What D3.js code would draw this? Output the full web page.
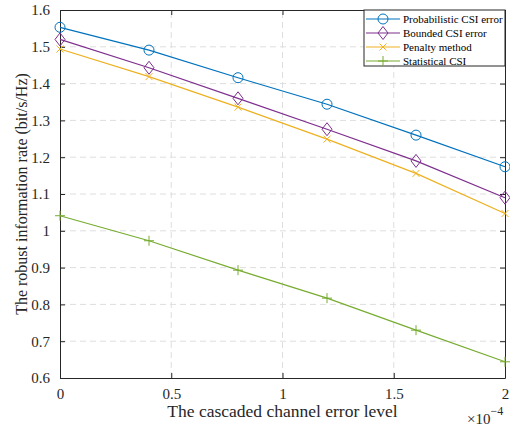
<!DOCTYPE html>
<html>
<head>
<meta charset="utf-8">
<script src="https://cdn.jsdelivr.net/npm/d3@7"></script>
<style>
  body { margin: 0; background: #fff; }
  svg { display: block; }
  svg text { font-family: "Liberation Serif", "Times New Roman", serif; }
</style>
</head>
<body>
<svg></svg>
<script>
const errorLevels = [0, 0.4, 0.8, 1.2, 1.6, 2.0];
const probabilistic = [1.553, 1.491, 1.416, 1.344, 1.260, 1.174];
const bounded = [1.520, 1.443, 1.360, 1.276, 1.190, 1.090];
const penalty = [1.494, 1.419, 1.336, 1.249, 1.156, 1.047];
const statistical = [1.041, 0.973, 0.893, 0.817, 0.730, 0.644];
const seriesNames = ["Probabilistic CSI error", "Bounded CSI error", "Penalty method", "Statistical CSI"];
const xTicks = [0, 0.5, 1, 1.5, 2];
const yTicks = [0.6, 0.7, 0.8, 0.9, 1, 1.1, 1.2, 1.3, 1.4, 1.5, 1.6];

const W = 510, H = 429;
const margin = { left: 60, right: 5, top: 10, bottom: 51 };
const svg = d3.select("svg").attr("width", W).attr("height", H);

const x = d3.scaleLinear().domain([0, 2]).range([margin.left, W - margin.right]);
const y = d3.scaleLinear().domain([0.6, 1.6]).range([H - margin.bottom, margin.top]);

const colors = ["#0072BD", "#7E2F8E", "#EDB120", "#77AC30"];
const markers = ["circle", "diamond", "cross", "plus"];
const data = [probabilistic, bounded, penalty, statistical];
const axisColor = "#262626";

// grid
const grid = svg.append("g");
grid.selectAll(".gx").data(xTicks.slice(1, -1)).enter().append("line")
  .attr("x1", d => x(d)).attr("x2", d => x(d))
  .attr("y1", y(0.6)).attr("y2", y(1.6))
  .attr("stroke", "#dedede").attr("stroke-dasharray", "6,4");
grid.selectAll(".gy").data(yTicks.slice(1, -1)).enter().append("line")
  .attr("y1", d => y(d)).attr("y2", d => y(d))
  .attr("x1", x(0)).attr("x2", x(2))
  .attr("stroke", "#dedede").attr("stroke-dasharray", "6,4");

// axes, ticks pointing in
const fmt = d => d3.format("")(+d.toFixed(1));
const axBottom = svg.append("g").attr("transform", `translate(0,${y(0.6)})`)
  .call(d3.axisBottom(x).tickValues(xTicks).tickSizeInner(-5).tickSizeOuter(0).tickPadding(10).tickFormat(fmt));
const axTop = svg.append("g").attr("transform", `translate(0,${y(1.6)})`)
  .call(d3.axisTop(x).tickValues(xTicks).tickSizeInner(-5).tickSizeOuter(0).tickFormat(""));
const axLeft = svg.append("g").attr("transform", `translate(${x(0)},0)`)
  .call(d3.axisLeft(y).tickValues(yTicks).tickSizeInner(-5).tickSizeOuter(0).tickPadding(10).tickFormat(fmt));
const axRight = svg.append("g").attr("transform", `translate(${x(2)},0)`)
  .call(d3.axisRight(y).tickValues(yTicks).tickSizeInner(-5).tickSizeOuter(0).tickFormat(""));
[axBottom, axTop, axLeft, axRight].forEach(g => {
  g.attr("font-family", null).attr("font-size", 15);
  g.selectAll("path, line").attr("stroke", axisColor);
  g.selectAll("text").attr("fill", axisColor);
});

function drawMarker(g, type, color, cx, cy) {
  if (type === "circle") {
    g.append("circle").attr("cx", cx).attr("cy", cy).attr("r", 5)
      .attr("fill", "none").attr("stroke", color).attr("stroke-width", 1);
  } else if (type === "diamond") {
    g.append("path").attr("d", `M${cx},${cy - 6.5}L${cx + 5},${cy}L${cx},${cy + 6.5}L${cx - 5},${cy}Z`)
      .attr("fill", "none").attr("stroke", color).attr("stroke-width", 1);
  } else if (type === "cross") {
    g.append("path").attr("d", `M${cx - 3.5},${cy - 3.5}L${cx + 3.5},${cy + 3.5}M${cx - 3.5},${cy + 3.5}L${cx + 3.5},${cy - 3.5}`)
      .attr("stroke", color).attr("stroke-width", 1);
  } else {
    g.append("path").attr("d", `M${cx - 5},${cy}L${cx + 5},${cy}M${cx},${cy - 5}L${cx},${cy + 5}`)
      .attr("stroke", color).attr("stroke-width", 1);
  }
}

const line = d3.line().x((d, i) => x(errorLevels[i])).y(d => y(d));
data.forEach((vals, k) => {
  const g = svg.append("g");
  g.append("path").datum(vals).attr("d", line)
    .attr("fill", "none").attr("stroke", colors[k]).attr("stroke-width", 1.2);
  vals.forEach((v, i) => drawMarker(g, markers[k], colors[k], x(errorLevels[i]), y(v)));
});

// axis labels
svg.append("text").attr("x", (x(0) + x(2)) / 2).attr("y", 417)
  .attr("text-anchor", "middle").attr("fill", axisColor).style("font-size", "17.5px")
  .text("The cascaded channel error level");
const ex = svg.append("text").attr("x", 467).attr("y", 424).attr("fill", axisColor).style("font-size", "15px");
ex.append("tspan").text("×10");
ex.append("tspan").attr("dy", -9).style("font-size", "12px").text("−4");
svg.append("text").attr("transform", `translate(27,${(y(0.6) + y(1.6)) / 2}) rotate(-90)`)
  .attr("text-anchor", "middle").attr("fill", axisColor).style("font-size", "16px")
  .text("The robust information rate (bit/s/Hz)");

// legend
const lg = svg.append("g").attr("transform", `translate(364,${margin.top})`);
lg.append("rect").attr("x", 0).attr("y", 0).attr("width", x(2) - 364).attr("height", 56)
  .attr("fill", "#fff").attr("stroke", axisColor).attr("stroke-width", 1);
seriesNames.forEach((name, k) => {
  const yy = 9 + k * 14;
  lg.append("line").attr("x1", 2).attr("x2", 36).attr("y1", yy).attr("y2", yy)
    .attr("stroke", colors[k]).attr("stroke-width", 1.2);
  drawMarker(lg, markers[k], colors[k], 19, yy);
  lg.append("text").attr("x", 39).attr("y", yy + 3.5).attr("fill", "#000")
    .style("font-size", "11px").text(name);
});
</script>
</body>
</html>
